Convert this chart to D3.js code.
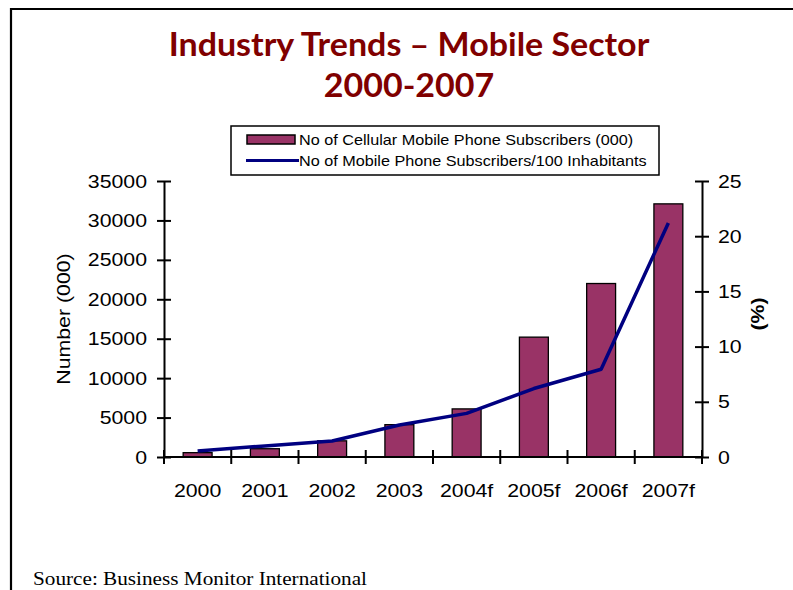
<!DOCTYPE html>
<html><head><meta charset="utf-8">
<script src="https://cdn.jsdelivr.net/npm/d3@7"></script>
<style>html,body{margin:0;padding:0;background:#fff;}svg{display:block;}</style>
</head><body>
<svg id="c" width="793" height="590"></svg>
<script>
const categories = ["2000","2001","2002","2003","2004f","2005f","2006f","2007f"];
const subscribers = [550, 1050, 2050, 4100, 6100, 15200, 22000, 32100];
const per100 = [0.55, 1.0, 1.45, 2.9, 3.95, 6.2, 7.95, 21.2];
const leftTicks = [0,5000,10000,15000,20000,25000,30000,35000];
const rightTicks = [0,5,10,15,20,25];
const titleLines = ["Industry Trends \u2013 Mobile Sector", "2000-2007"];
const legendLabels = ["No of Cellular Mobile Phone Subscribers (000)", "No of Mobile Phone Subscribers/100 Inhabitants"];

const svg = d3.select("#c");
const L = 164, R = 702, T = 181, B = 457;
const x = d3.scaleBand().domain(categories).range([L, R]).paddingInner(0.57).paddingOuter(0.285);
const yL = d3.scaleLinear().domain([0, 35000]).range([B, T]);
const yR = d3.scaleLinear().domain([0, 25]).range([B, T]);
const step = x.step();
const font = "'Liberation Sans', Arial, sans-serif";

function stretch(sel, f) {
  sel.each(function(){
    const w = this.getComputedTextLength();
    d3.select(this).attr("textLength", w*f).attr("lengthAdjust","spacingAndGlyphs");
  });
}

// frame
svg.append("path").attr("d", `M11,590 V9 H793`).attr("fill","none").attr("stroke","#000").attr("stroke-width",2.2);

// title
const title = svg.append("text").attr("x", 409).attr("text-anchor","middle")
  .attr("font-family","Lato, 'Open Sans', sans-serif").attr("font-weight","bold").attr("font-size",33).attr("fill","#800000");
const tsp = title.selectAll("tspan").data(titleLines).join("tspan").attr("x",409).attr("y",(d,i)=>56+i*41).text(d=>d);
stretch(tsp, 1.03);

// bars
svg.append("g").selectAll("rect").data(categories).join("rect")
  .attr("x", d=>x(d)).attr("width", x.bandwidth())
  .attr("y", (d,i)=>yL(subscribers[i])).attr("height", (d,i)=>B-yL(subscribers[i]))
  .attr("fill","#993366").attr("stroke","#000").attr("stroke-width",1.3);

// line
const line = d3.line().x((d,i)=>x(categories[i])+x.bandwidth()/2).y(d=>yR(d));
svg.append("path").attr("d", line(per100)).attr("fill","none").attr("stroke","#000080").attr("stroke-width",3.5).attr("stroke-linejoin","round");

// axes
const axL = d3.axisLeft(yL).tickValues(leftTicks).tickFormat(d3.format("d")).tickSizeInner(7).tickSizeOuter(0).tickPadding(10);
const gL = svg.append("g").attr("transform",`translate(${L},0)`).call(axL);
const axR = d3.axisRight(yR).tickValues(rightTicks).tickFormat(d3.format("d")).tickSizeInner(7).tickSizeOuter(0).tickPadding(9);
const gR = svg.append("g").attr("transform",`translate(${R},0)`).call(axR);
[gL,gR].forEach(g=>{
  g.select(".domain").attr("stroke-width",2);
  g.selectAll(".tick line").attr("stroke-width",2);
  g.selectAll("text").attr("font-family",font).attr("font-size",19).attr("fill","#000");
  stretch(g.selectAll("text"), 1.12);
});
gL.selectAll(".tick line").attr("x1",7);
gR.selectAll(".tick line").attr("x1",-7);

// x axis with boundary ticks
const bounds = d3.range(categories.length+1).map(i=>L+i*step);
const gX = svg.append("g");
gX.append("line").attr("x1",L).attr("x2",R).attr("y1",B).attr("y2",B).attr("stroke","#000").attr("stroke-width",2);
gX.selectAll("line.t").data(bounds).join("line").attr("class","t")
  .attr("x1",d=>d).attr("x2",d=>d).attr("y1",B-7).attr("y2",B+7).attr("stroke","#000").attr("stroke-width",2);
const xl = gX.selectAll("text").data(categories).join("text")
  .attr("x",d=>x(d)+x.bandwidth()/2).attr("y",497).attr("text-anchor","middle")
  .attr("font-family",font).attr("font-size",19).text(d=>d);
stretch(xl, 1.12);

// axis titles
const at1 = svg.append("text").attr("transform","translate(70,319) rotate(-90)").attr("text-anchor","middle")
  .attr("font-family",font).attr("font-size",19).text("Number (000)");
stretch(at1, 1.12);
const at2 = svg.append("text").attr("transform","translate(764,314) rotate(-90)").attr("text-anchor","middle")
  .attr("font-family",font).attr("font-size",19).attr("font-weight","bold").text("(%)");
stretch(at2, 1.12);

// legend
const lg = svg.append("g");
lg.append("rect").attr("x",231).attr("y",126).attr("width",428).attr("height",49).attr("fill","#fff").attr("stroke","#000").attr("stroke-width",1.5);
lg.append("rect").attr("x",247).attr("y",135).attr("width",48).attr("height",9).attr("fill","#993366").attr("stroke","#000").attr("stroke-width",1.5);
lg.append("line").attr("x1",246).attr("x2",299).attr("y1",160.5).attr("y2",160.5).attr("stroke","#000080").attr("stroke-width",3);
const lt = lg.selectAll("text").data(legendLabels).join("text").attr("x",299).attr("y",(d,i)=>144.5+i*21.5)
  .attr("font-family",font).attr("font-size",15).text(d=>d);
stretch(lt, 1.08);

// source
const src = svg.append("text").attr("x",33).attr("y",585).attr("font-family","'Liberation Serif', 'Times New Roman', serif")
  .attr("font-size",19).text("Source: Business Monitor International");
src.attr("textLength", 334).attr("lengthAdjust","spacingAndGlyphs");
</script>
</body></html>
